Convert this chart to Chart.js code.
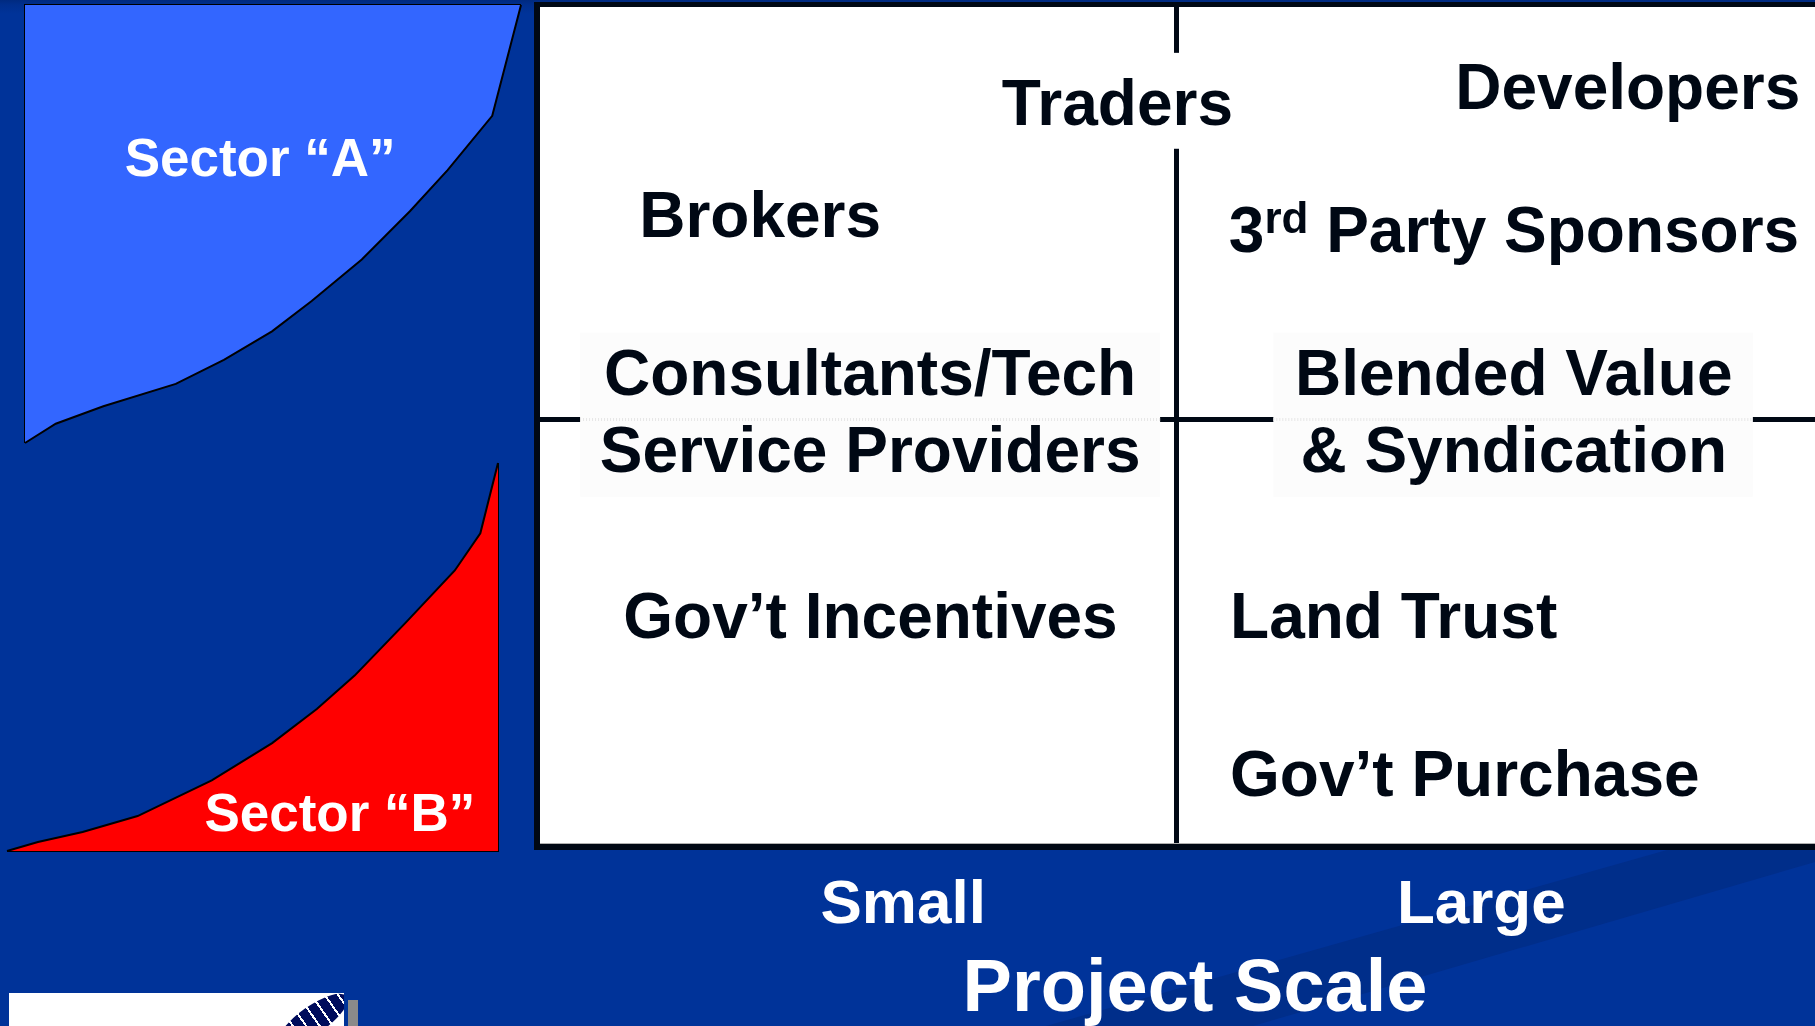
<!DOCTYPE html>
<html>
<head>
<meta charset="utf-8">
<script src="https://cdn.jsdelivr.net/npm/chart.js"></script>
<style>
  html, body { margin: 0; padding: 0; }
  body {
    width: 1815px; height: 1026px; overflow: hidden; position: relative;
    background: linear-gradient(to bottom, #002a80 0px, #002f8e 5px, #003399 14px);
    font-family: "Liberation Sans", Arial, sans-serif;
  }
  .streak { position: absolute; left: 0; top: 0; width: 1815px; height: 1026px; background: #002e8a;
    clip-path: polygon(1046px 1026px, 1667px 850px, 1815px 850px, 1815px 862px, 1253px 1026px); }
  #sectorA { position: absolute; left: 0; top: 0; }
  #sectorB { position: absolute; left: 0; top: 450px; }
  #quadrant { position: absolute; left: 528px; top: 0; }
  .logo { position: absolute; left: 9px; top: 993px; width: 335px; height: 40px; background: #fff; overflow: hidden; }
  .feather { position: absolute; left: 263px; top: 13px; width: 82px; height: 28px; border-radius: 50%;
    background: repeating-linear-gradient(90deg, #000c5c 0 9px, #ffffff 9px 11px); transform: rotate(-35deg); }
  .logobar { position: absolute; left: 348px; top: 1000px; width: 10px; height: 26px; background: #8a8a8a; }
</style>
</head>
<body>
<div class="streak"></div>
<canvas id="sectorA" width="540" height="460"></canvas>
<canvas id="sectorB" width="540" height="420"></canvas>
<canvas id="quadrant" width="1322" height="1026"></canvas>
<div class="logo"><div class="feather"></div></div>
<div class="logobar"></div>
<script>
// sector names
const sectorNames = ['Sector “A”', 'Sector “B”'];

// sector A boundary (0-100 both ways)
const sectorAX = [0, 6.2, 15.8, 30.4, 40.1, 49.8, 57.8, 67.9, 77.6, 85.2, 94.2, 100];
const sectorAY = [0, 4.4, 8.4, 13.5, 19.0, 25.5, 32.4, 41.9, 52.9, 62.3, 74.7, 100];

// sector B boundary
const sectorBX = [0, 6.3, 15.4, 26.6, 41.7, 54.0, 63.1, 70.8, 81.3, 91.2, 96.4, 100];
const sectorBY = [0, 2.3, 4.9, 9.0, 18.2, 27.8, 36.6, 45.2, 59.0, 72.3, 81.9, 100];

// quadrant entries
const quadrantItems = ['Traders', 'Developers', 'Brokers', '3rd Party Sponsors',
  'Consultants/Tech', 'Service Providers', 'Blended Value', '& Syndication',
  'Gov’t Incentives', 'Land Trust', 'Gov’t Purchase'];

// axis texts
const scaleLabels = ['Small', 'Large'];
const scaleTitle = 'Project Scale';

// ---- layout (where things sit, not data) ----
const sectorLabelPos = [{x: 47.4, y: 61.0}, {x: 67.8, y: 5.2}];
const itemPos = [
  {x: 0.726, y: 1.694, align: 'left'},
  {x: 1.439, y: 1.732, align: 'left'},
  {x: 0.156, y: 1.430, align: 'left'},
  {x: 1.083, y: 1.395, align: 'left', sup: 'rd'},
  {x: 0.519, y: 1.058, align: 'center'},
  {x: 0.519, y: 0.877, align: 'center'},
  {x: 1.531, y: 1.058, align: 'center'},
  {x: 1.531, y: 0.877, align: 'center'},
  {x: 0.131, y: 0.485, align: 'left'},
  {x: 1.085, y: 0.485, align: 'left'},
  {x: 1.085, y: 0.113, align: 'left'}
];
const tickPos = [0.571, 1, 1.48];
const textBoxes = [
  {x0: 0.063, x1: 0.975, y0: 0.818, y1: 1.205, fill: '#fcfcfc', dotted: true},
  {x0: 1.153, x1: 1.907, y0: 0.818, y1: 1.205, fill: '#fcfcfc', dotted: true},
  {x0: 0.70, x1: 1.12, y0: 1.638, y1: 1.864, fill: '#ffffff'}
];

const FONT = '"Liberation Sans", Arial, sans-serif';

function pts(xs, ys) {
  return xs.map((v, i) => ({x: v, y: ys[i]}));
}

function sectorLabel(text, pos) {
  return {
    id: 'sectorLabel',
    afterDatasetsDraw(chart) {
      const {ctx, scales: {x, y}} = chart;
      ctx.save();
      ctx.font = 'bold 53px ' + FONT;
      ctx.fillStyle = '#ffffff';
      ctx.textAlign = 'center';
      ctx.textBaseline = 'alphabetic';
      ctx.fillText(text, x.getPixelForValue(pos.x), y.getPixelForValue(pos.y));
      ctx.restore();
    }
  };
}

function sectorChart(id, xs, ys, fill, color, frame, label, pos, padding) {
  return new Chart(document.getElementById(id), {
    type: 'line',
    data: {
      datasets: [{
        data: pts(xs, ys),
        fill: fill,
        backgroundColor: color,
        borderColor: '#000000',
        borderWidth: 2,
        pointRadius: 0,
        tension: 0,
        clip: false
      }, {
        data: frame,
        fill: false,
        borderColor: '#000000',
        borderWidth: 2,
        pointRadius: 0,
        tension: 0,
        clip: false
      }]
    },
    options: {
      responsive: false,
      animation: false,
      layout: { padding: padding },
      plugins: { legend: { display: false }, tooltip: { enabled: false } },
      scales: {
        x: { type: 'linear', min: 0, max: 100, display: false },
        y: { type: 'linear', min: 0, max: 100, display: false }
      }
    },
    plugins: [sectorLabel(label, pos)]
  });
}

var nA = sectorAX.length - 1;
sectorChart('sectorA', sectorAX, sectorAY, 'end', '#3366ff',
  [{x: sectorAX[0], y: sectorAY[0]}, {x: sectorAX[0], y: sectorAY[nA]}, {x: sectorAX[nA], y: sectorAY[nA]}],
  sectorNames[0], sectorLabelPos[0], {left: 25, top: 5, right: 19, bottom: 17});

var nB = sectorBX.length - 1;
sectorChart('sectorB', sectorBX, sectorBY, 'start', '#ff0000',
  [{x: sectorBX[nB], y: sectorBY[nB]}, {x: sectorBX[nB], y: sectorBY[0]}, {x: sectorBX[0], y: sectorBY[0]}],
  sectorNames[1], sectorLabelPos[1], {left: 7, top: 13, right: 42, bottom: 19});

// draw one quadrant entry, with optional superscript part
function drawItem(ctx, txt, px, py, p) {
  const main = 'bold 64px ' + FONT, small = 'bold 44px ' + FONT;
  if (!p.sup) {
    ctx.font = main;
    ctx.textAlign = p.align;
    ctx.fillText(txt, px, py);
    return;
  }
  const k = txt.indexOf(p.sup);
  const pre = txt.slice(0, k), post = txt.slice(k + p.sup.length);
  ctx.textAlign = 'left';
  ctx.font = main;
  ctx.fillText(pre, px, py);
  let cx = px + ctx.measureText(pre).width;
  ctx.font = small;
  ctx.fillText(p.sup, cx, py - 19);
  cx += ctx.measureText(p.sup).width;
  ctx.font = main;
  ctx.fillText(post, cx, py);
}

const quadPlugin = {
  id: 'quad',
  beforeDraw(chart) {
    const {ctx, chartArea: a} = chart;
    ctx.save();
    ctx.fillStyle = '#ffffff';
    ctx.fillRect(a.left, a.top, a.right - a.left, a.bottom - a.top);
    ctx.restore();
  },
  afterDatasetsDraw(chart) {
    const {ctx, chartArea: a, scales: {x, y}} = chart;
    ctx.save();
    // text boxes sit on top of the dividers
    textBoxes.forEach(b => {
      const l = x.getPixelForValue(b.x0), r = x.getPixelForValue(b.x1);
      const t = y.getPixelForValue(b.y1), bt = y.getPixelForValue(b.y0);
      ctx.fillStyle = b.fill;
      ctx.fillRect(l, t, r - l, bt - t);
      if (b.dotted) {
        const yy = y.getPixelForValue(1);
        ctx.strokeStyle = '#e6e6e6';
        ctx.lineWidth = 3;
        ctx.setLineDash([1, 2]);
        ctx.beginPath();
        ctx.moveTo(l, yy);
        ctx.lineTo(r, yy);
        ctx.stroke();
        ctx.setLineDash([]);
      }
    });
    ctx.fillStyle = '#000814';
    ctx.textBaseline = 'alphabetic';
    quadrantItems.forEach((txt, i) => {
      const p = itemPos[i];
      drawItem(ctx, txt, x.getPixelForValue(p.x), y.getPixelForValue(p.y), p);
    });
    // frame
    ctx.fillStyle = '#000814';
    ctx.fillRect(a.left - 6, a.top - 5, 6, a.bottom - a.top + 11);
    ctx.fillRect(a.left - 6, a.top - 5, a.right - a.left + 12, 5);
    ctx.fillRect(a.left - 6, a.bottom, a.right - a.left + 12, 6);
    ctx.fillStyle = '#b0b0b0';
    ctx.fillRect(a.left, a.bottom - 1, a.right - a.left, 1);
    ctx.restore();
  }
};

const tickText = tickPos.map(v => v === 1 ? '' : (v < 1 ? scaleLabels[0] : scaleLabels[1]));

new Chart(document.getElementById('quadrant'), {
  type: 'scatter',
  data: { datasets: [] },
  options: {
    responsive: false,
    animation: false,
    layout: { padding: {left: 12, top: 7, right: 0, bottom: 0} },
    plugins: { legend: { display: false }, tooltip: { enabled: false } },
    scales: {
      x: {
        type: 'linear', min: 0, max: 2.0597,
        afterBuildTicks: s => { s.ticks = tickPos.map(v => ({value: v})); },
        afterFit: s => { s.height = 182; },
        border: { display: false },
        grid: {
          drawTicks: false,
          lineWidth: 5,
          color: c => (c.tick && c.tick.value === 1) ? '#000814' : 'rgba(0,0,0,0)'
        },
        ticks: {
          autoSkip: false, maxRotation: 0, padding: 25,
          color: '#ffffff',
          font: { family: FONT, size: 62, weight: 'bold' },
          callback: (v, i) => tickText[i]
        },
        title: {
          display: true, text: scaleTitle, color: '#ffffff',
          font: { family: FONT, size: 74, weight: 'bold', lineHeight: 1 },
          padding: { top: 0, bottom: -2 }
        }
      },
      y: {
        type: 'linear', min: 0, max: 1.972,
        afterBuildTicks: s => { s.ticks = [{value: 1}]; },
        afterFit: s => { s.width = 0; },
        border: { display: false },
        grid: { drawTicks: false, lineWidth: 5, color: '#000814' },
        ticks: { display: false }
      }
    }
  },
  plugins: [quadPlugin]
});
</script>
</body>
</html>
